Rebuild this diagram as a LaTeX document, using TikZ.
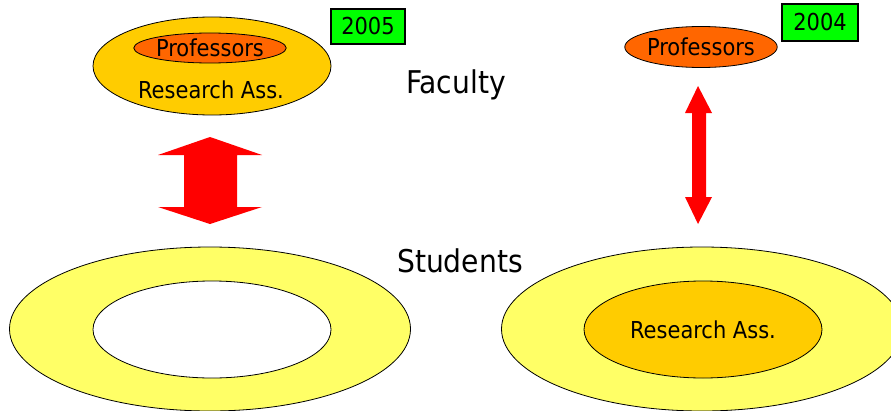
\documentclass[tikz,border=0pt]{standalone}
\usepackage{fontspec}
\setmainfont{DejaVu Sans Condensed}
\usetikzlibrary{shapes.geometric,positioning}
\definecolor{studyellow}{HTML}{FFFF66}
\definecolor{assgold}{HTML}{FFCC00}
\definecolor{profred}{HTML}{FF6600}
\definecolor{yeargreen}{HTML}{00FF00}

\begin{document}
\begin{tikzpicture}[x=0.75pt,y=-0.75pt,
ring/.style={draw,ellipse,inner sep=0pt,line width=0.6pt},
yearbox/.style={draw,fill=yeargreen,inner sep=0pt,line width=0.8pt,
    font=\fontsize{17.5}{19}\selectfont},
smalltext/.style={font=\fontsize{17.5}{19}\selectfont,inner sep=0pt},
bigtext/.style={font=\fontsize{23.5}{26}\selectfont,inner sep=0pt},
fatarrow/.style={fill=red,draw=none}]
\useasboundingbox (0,0) rectangle (891,410);
\clip (0,0) rectangle (891,410);

% 2005
\node (fac05) [ring,fill=assgold,minimum width=178.5pt,minimum height=73.5pt] at (212,66) {};
\node (prof05) [ring,fill=profred,minimum width=112.5pt,minimum height=22.5pt,smalltext] at (210,48) {Professors};
\node (ra05) [smalltext] at (211,90) {Research Ass.};
\node (y05) [yearbox,minimum width=55.5pt,minimum height=26.25pt] at (368,26.5) {2005};

\node (stud05) [ring,fill=studyellow,minimum width=300.75pt,minimum height=123pt] at (210,329) {};
\node (hole05) [ring,fill=white,minimum width=178.5pt,minimum height=72.75pt] at (212,329.5) {};

\draw[fatarrow] (210,137) -- (262,155) -- (237,155) -- (237,207) -- (262,207)
    -- (210,224) -- (158,207) -- (184,207) -- (184,155) -- (158,155) -- cycle;

% 2004
\node (prof04) [ring,fill=profred,minimum width=113.25pt,minimum height=30.75pt,smalltext] at (701,47) {Professors};
\node (y04) [yearbox,minimum width=57pt,minimum height=27.75pt] at (820,22.5) {2004};

\node (stud04) [ring,fill=studyellow,minimum width=300.75pt,minimum height=123pt] at (702,329) {};
\node (ra04) [ring,fill=assgold,minimum width=178.5pt,minimum height=72.75pt,smalltext] at (703,329.5) {Research Ass.};

\draw[fatarrow] (698,86) -- (712,113) -- (706,113) -- (706,197) -- (712,197)
    -- (698,224) -- (685,197) -- (692,197) -- (692,113) -- (685,113) -- cycle;

% labels
\node (fac) [bigtext] at (456,85) {Faculty};
\node (stud) [bigtext] at (460,261) {Students};

\end{tikzpicture}
\end{document}
